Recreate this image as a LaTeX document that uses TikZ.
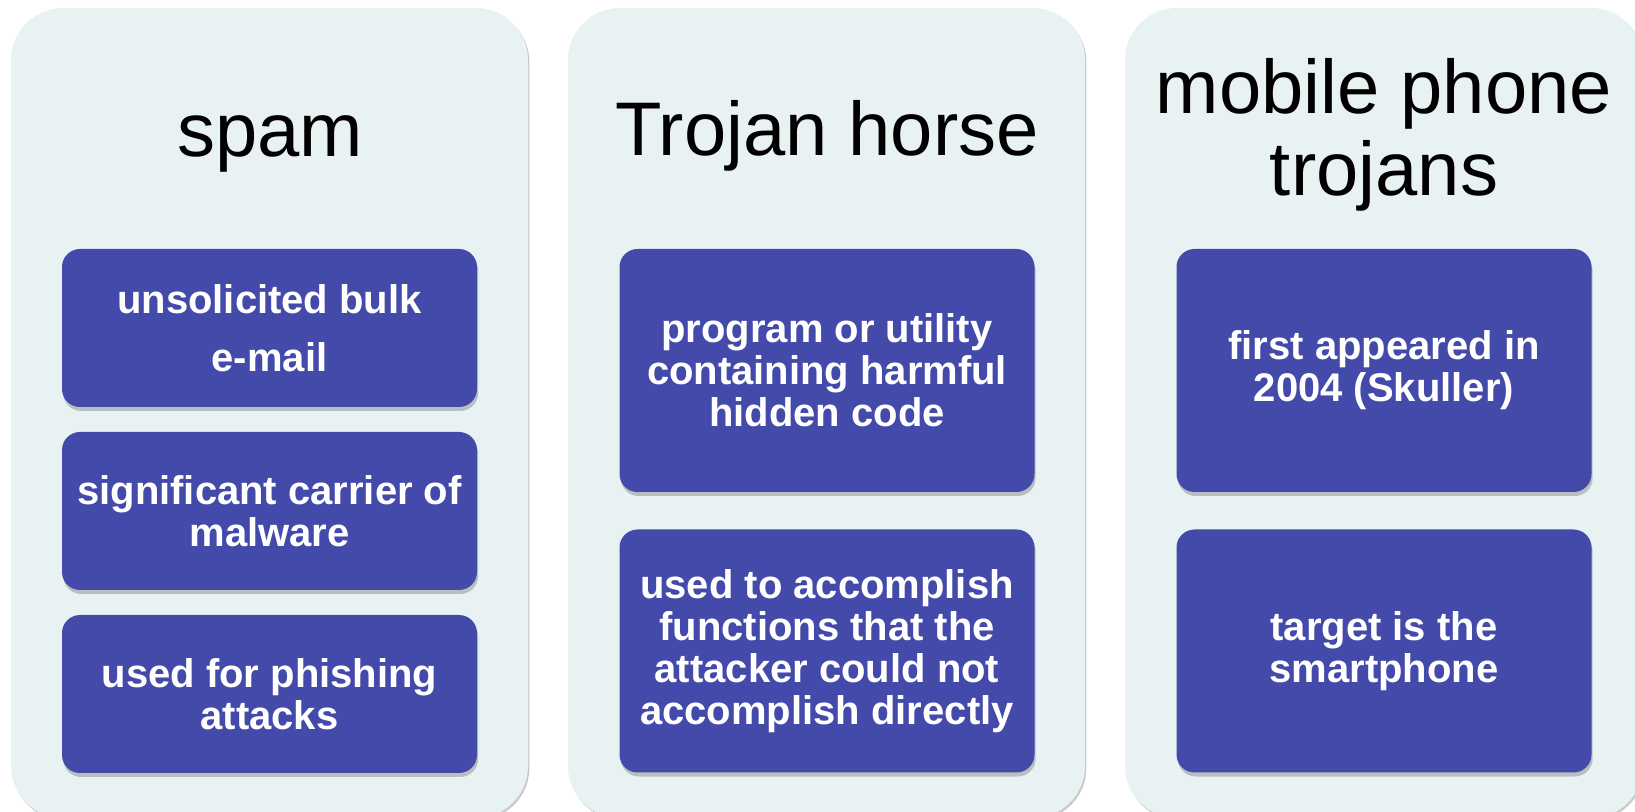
\documentclass[tikz,border=0pt]{standalone}
\usepackage{fontspec}
\setmainfont{Liberation Sans}
\usetikzlibrary{shadows}
\definecolor{pan}{RGB}{233, 242, 243}
\definecolor{crd}{RGB}{68, 74, 170}
\tikzset{
  panel/.style={fill=pan, rounded corners=26pt,
    drop shadow={shadow xshift=0.7pt, shadow yshift=-1pt, opacity=0.3, fill=black!70}},
  card/.style={fill=crd, rounded corners=9pt, text=white, align=center, inner sep=0pt,
    font=\bfseries\fontsize{20pt}{21pt}\selectfont, minimum width=207.5pt,
    drop shadow={shadow xshift=0.6pt, shadow yshift=-2pt, opacity=0.3, fill=black!70}},
  cardlow/.style={card, minimum height=79pt},
  cardtall/.style={card, minimum height=121.5pt},
  head/.style={font=\fontsize{38pt}{41pt}\selectfont, align=center, inner sep=0pt}
}

\begin{document}
\begin{tikzpicture}[x=0.5pt, y=-0.5pt]
      \useasboundingbox (0,0) rectangle (1635,812);
      \fill[panel] (11,8) rectangle (528,818);
      \fill[panel] (568,8) rectangle (1085,818);
      \fill[panel] (1125,8) rectangle (1643,818);

      \node[head, anchor=base] (spam) at (270,157) {spam};
      \node[head, anchor=base] (trojan) at (827,156) {Trojan horse};
      \node[head, anchor=north] (mobile) at (1384,58) {mobile phone\\trojans};

      \node[cardlow] (spambulk) at (269.5,328) {unsolicited bulk\\[8pt]e-mail};
      \node[cardlow] (spamcarrier) at (269.5,511) {significant carrier of\\malware};
      \node[cardlow] (spamphish) at (269.5,694) {used for phishing\\attacks};

      \node[cardtall] (trojprog) at (827,370.5) {program or utility\\containing harmful\\hidden code};
      \node[cardtall] (trojuse) at (827,651) {used to accomplish\\functions that the\\attacker could not\\accomplish directly};

      \node[cardtall] (mobfirst) at (1384,370.5) {first appeared in\\2004 (Skuller)};
      \node[cardtall] (mobtarget) at (1384,651) {target is the\\smartphone};
    \end{tikzpicture}
\end{document}
